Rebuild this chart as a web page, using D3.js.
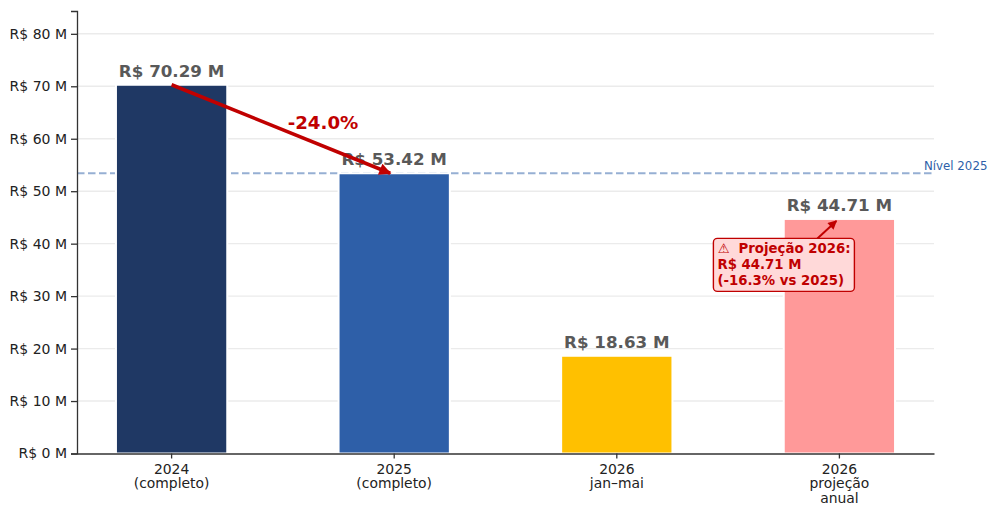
<!DOCTYPE html>
<html>
<head>
<meta charset="utf-8">
<script src="https://cdn.jsdelivr.net/npm/d3@7"></script>
<style>
  html, body { margin: 0; padding: 0; background: #fff; }
  svg { display: block; font-family: "DejaVu Sans", sans-serif; }
  svg g { font-family: "DejaVu Sans", sans-serif; }
  .domain { stroke: #333; stroke-width: 1.3; }
  .tick line { stroke: #333; stroke-width: 1.3; }
  .tick text { fill: #222; font-size: 14px; }
</style>
</head>
<body>
<svg id="chart" width="990" height="506"></svg>
<script>
var categories = ["2024", "2025", "2026 jan", "2026 proj"];
var categoryLines = [["2024", "(completo)"], ["2025", "(completo)"], ["2026", "jan–mai"], ["2026", "projeção", "anual"]];
var values = [70.29, 53.42, 18.63, 44.71];
var barLabels = ["R$ 70.29 M", "R$ 53.42 M", "R$ 18.63 M", "R$ 44.71 M"];
var barColors = ["#1f3864", "#2e5fa8", "#ffc000", "#ff9999"];
var yTicks = [0, 10, 20, 30, 40, 50, 60, 70, 80];
var level2025 = 53.42;
var changeLabel = "-24.0%";
var noteLines = ["⚠  Projeção 2026:", "R$ 44.71 M", "(-16.3% vs 2025)"];
var noteTop = 41.0;   // value at the top edge of the note box

var svg = d3.select("#chart");
var red = "#c00000";

// Scales ---------------------------------------
var x = d3.scaleBand()
    .domain(categories)
    .range([77, 934])
    .paddingInner(0.5)
    .paddingOuter(0.175);

var y = d3.scaleLinear()
    .domain([0, 84.35])
    .range([453.5, 11]);

var cx = function(i) { return x(categories[i]) + x.bandwidth() / 2 };

var defs = svg.append("defs");
function arrowHead(id, w, h) {
  defs.append("marker")
      .attr("id", id)
      .attr("viewBox", "0 0 10 10")
      .attr("refX", 9)
      .attr("refY", 5)
      .attr("markerUnits", "userSpaceOnUse")
      .attr("markerWidth", w)
      .attr("markerHeight", h)
      .attr("orient", "auto")
      .append("path")
      .attr("d", "M0,0 L10,5 L0,10 Z")
      .attr("fill", red);
}
arrowHead("head-big", 14, 12);
arrowHead("head-small", 10, 9);

// Grid -----------------------------------------
svg.append("g")
    .selectAll("line")
    .data(yTicks.slice(1))
    .enter()
    .append("line")
    .attr("x1", 77)
    .attr("x2", 934)
    .attr("y1", function(d) { return y(d) })
    .attr("y2", function(d) { return y(d) })
    .attr("stroke", "#ebebeb")
    .attr("stroke-width", 1.4);

// Level line -----------------------------------
svg.append("line")
    .attr("x1", 77)
    .attr("x2", 934)
    .attr("y1", y(level2025))
    .attr("y2", y(level2025))
    .attr("stroke", "#2e5fa8")
    .attr("stroke-opacity", 0.5)
    .attr("stroke-width", 2)
    .attr("stroke-dasharray", "7.5 3.5");

svg.append("text")
    .attr("x", 924)
    .attr("y", y(level2025) - 3)
    .attr("fill", "#2e5fa8")
    .attr("font-size", 11.8)
    .text("Nível 2025");

// Bars -----------------------------------------
svg.append("g")
    .selectAll("rect")
    .data(values)
    .enter()
    .append("rect")
    .attr("x", function(d, i) { return x(categories[i]) })
    .attr("y", function(d) { return y(d) })
    .attr("width", x.bandwidth())
    .attr("height", function(d) { return y(0) - y(d) })
    .attr("fill", function(d, i) { return barColors[i] })
    .attr("stroke", "#fff")
    .attr("stroke-width", 2);

svg.append("g")
    .selectAll("text")
    .data(values)
    .enter()
    .append("text")
    .attr("x", function(d, i) { return cx(i) })
    .attr("y", function(d) { return y(d) - 8 })
    .attr("text-anchor", "middle")
    .attr("fill", "#595959")
    .attr("font-size", 16.7)
    .attr("font-weight", "bold")
    .text(function(d, i) { return barLabels[i] });

// Axes -----------------------------------------
var yAxis = d3.axisLeft(y)
    .tickValues(yTicks)
    .tickSize(6)
    .tickPadding(4)
    .tickFormat(function(d) { return "R$ " + d + " M" });

svg.append("g")
    .attr("transform", "translate(77,0)")
    .call(yAxis)
    .attr("font-family", null);

var xAxis = d3.axisBottom(x)
    .tickSize(5)
    .tickSizeOuter(0)
    .tickFormat("");

var xg = svg.append("g")
    .attr("transform", "translate(0,453.5)")
    .call(xAxis)
    .attr("font-family", null);

xg.selectAll(".tick").each(function(d, i) {
  var label = d3.select(this).select("text")
      .attr("dy", null);
  categoryLines[i].forEach(function(line, k) {
    label.append("tspan")
        .attr("x", 0)
        .attr("y", 20 + k * 14.5)
        .attr("font-size", 13.9)
        .text(line);
  });
});

// Change arrow ---------------------------------
svg.append("line")
    .attr("x1", cx(0))
    .attr("y1", y(values[0]))
    .attr("x2", cx(1) - 4)
    .attr("y2", y(values[1]))
    .attr("stroke", red)
    .attr("stroke-width", 3.6)
    .attr("marker-end", "url(#head-big)");

svg.append("text")
    .attr("x", x.step() * 0.68 + cx(0))
    .attr("y", y(61.9))
    .attr("text-anchor", "middle")
    .attr("fill", red)
    .attr("font-size", 18.2)
    .attr("font-weight", "bold")
    .text(changeLabel);

// Projection note ------------------------------
svg.append("line")
    .attr("x1", cx(3) - 22)
    .attr("y1", y(noteTop))
    .attr("x2", cx(3) - 3)
    .attr("y2", y(values[3]) + 2)
    .attr("stroke", red)
    .attr("stroke-width", 2)
    .attr("marker-end", "url(#head-small)");

svg.append("rect")
    .attr("x", cx(3) - 126)
    .attr("y", y(noteTop))
    .attr("width", 141)
    .attr("height", 53)
    .attr("rx", 4)
    .attr("fill", "#ffd9d9")
    .attr("stroke", red)
    .attr("stroke-width", 1.4);

svg.append("g")
    .selectAll("text")
    .data(noteLines)
    .enter()
    .append("text")
    .attr("x", cx(3) - 122)
    .attr("y", function(d, i) { return y(noteTop) + 15 + i * 16 })
    .attr("fill", red)
    .attr("font-size", 13.3)
    .attr("font-weight", "bold")
    .style("white-space", "pre")
    .text(function(d) { return d });
</script>
</body>
</html>
